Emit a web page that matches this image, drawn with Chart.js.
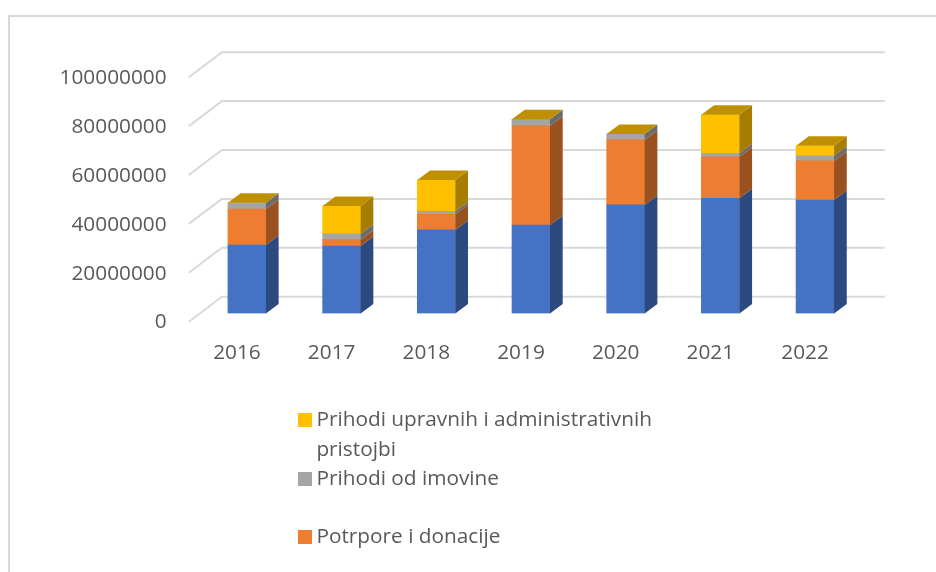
<!DOCTYPE html>
<html>
<head>
<meta charset="utf-8">
<style>html,body{margin:0;padding:0;background:#fff}canvas{display:block}</style>
<script src="https://cdn.jsdelivr.net/npm/chart.js@4"></script>
</head>
<body>
<canvas id="c" width="936" height="572"></canvas>
<script>
const categories = ['2016','2017','2018','2019','2020','2021','2022'];
const seriesBlue   = [28000000,27600000,34200000,36200000,44400000,47100000,46400000];
const seriesOrange = [14700000,2600000,6400000,40600000,26600000,17000000,16000000];
const seriesGray   = [2600000,2400000,1200000,2600000,2400000,1400000,2100000];
const seriesYellow = [0,11400000,12800000,0,0,15800000,4100000];
const labelOrange = 'Potrpore i donacije';
const labelGray = 'Prihodi od imovine';
const labelYellow = 'Prihodi upravnih i administrativnih';
const labelYellow2 = 'pristojbi';

const FONT = '"Open Sans"';
const FONT_SIZE = 20.8;
const DX = 12.7, DY = 9.5;           // bar depth
const WALL_DX = 22.3, WALL_DY = 16.8; // bar plane to back wall
const FRONT_DX = 10.8, FRONT_DY = 8.2; // bar plane to front edge
const shade = (hex, k) => {
  const n = parseInt(hex.slice(1), 16);
  return `rgb(${Math.round((n>>16)*k)},${Math.round(((n>>8)&255)*k)},${Math.round((n&255)*k)})`;
};
const swatch = color => {
  const cv = document.createElement('canvas');
  cv.width = 14; cv.height = 14;
  const g = cv.getContext('2d');
  g.fillStyle = color; g.fillRect(0, 0, 14, 14);
  return cv;
};

const depth = {
  id: 'depth',
  beforeDatasetsDraw(chart) {
    const {ctx, scales:{y}, chartArea:a} = chart;
    ctx.save();
    // chart frame
    ctx.strokeStyle = '#d9d9d9'; ctx.lineWidth = 2;
    ctx.beginPath(); ctx.moveTo(9, 580); ctx.lineTo(9, 16); ctx.lineTo(940, 16); ctx.stroke();
    // perspective gridlines
    ctx.lineJoin = 'round';
    y.ticks.forEach(t => {
      const p = y.getPixelForValue(t.value);
      ctx.beginPath();
      ctx.moveTo(a.left - FRONT_DX, p + FRONT_DY);
      ctx.lineTo(a.left + WALL_DX, p - WALL_DY);
      ctx.lineTo(a.right + WALL_DX, p - WALL_DY);
      ctx.stroke();
    });
    ctx.restore();
  },
  afterDatasetsDraw(chart) {
    const {ctx} = chart;
    ctx.save();
    const n = chart.data.datasets.length;
    chart.data.datasets.forEach((ds, i) => {
      chart.getDatasetMeta(i).data.forEach(bar => {
        const r = bar.x + bar.width / 2, l = bar.x - bar.width / 2;
        const t = bar.y, b = bar.base;
        if (b - t > 0.01) {
          ctx.fillStyle = shade(ds.backgroundColor, 0.65);
          ctx.beginPath();
          ctx.moveTo(r, t); ctx.lineTo(r + DX, t - DY); ctx.lineTo(r + DX, b - DY); ctx.lineTo(r, b);
          ctx.closePath(); ctx.fill();
        }
        if (i === n - 1) {
          ctx.fillStyle = shade(ds.backgroundColor, 0.75);
          ctx.beginPath();
          ctx.moveTo(l, t); ctx.lineTo(l + DX, t - DY); ctx.lineTo(r + DX, t - DY); ctx.lineTo(r, t);
          ctx.closePath(); ctx.fill();
        }
      });
    });
    ctx.restore();
  },
  afterLayout(chart) {
    const lg = chart.legend;
    lg.left = 303.8; lg.top = 410; lg.right = 700; lg.bottom = 640;
    lg.draw = function () { this._draw(); }; // swatches sit left of the box edge, so no clipping
  }
};

const bar = (label, data, color) => ({label, data, backgroundColor: color, borderWidth: 0, barThickness: 38});
const legendItem = (text, color, datasetIndex) => ({
  text, datasetIndex, pointStyle: swatch(color), fillStyle: color,
  strokeStyle: 'transparent', lineWidth: 0, fontColor: '#595959'
});

new Chart(document.getElementById('c'), {
  type: 'bar',
  data: {
    labels: categories,
    datasets: [
      bar('', seriesBlue, '#4472C4'),
      bar(labelOrange, seriesOrange, '#ED7D31'),
      bar(labelGray, seriesGray, '#A5A5A5'),
      bar(labelYellow, seriesYellow, '#FFC000')
    ]
  },
  plugins: [depth],
  options: {
    responsive: false,
    animation: false,
    layout: {padding: {left: 0, top: 69, right: 73.6, bottom: 0}, autoPadding: false},
    scales: {
      x: {
        stacked: true,
        grid: {display: false}, border: {display: false},
        ticks: {color: '#595959', font: {family: FONT, size: FONT_SIZE}, labelOffset: -10, padding: 19, maxRotation: 0, autoSkip: false},
        afterFit(s) { s.height = 258.5; }
      },
      y: {
        stacked: true, min: 0, max: 100000000,
        grid: {display: false}, border: {display: false},
        ticks: {stepSize: 20000000, color: '#595959', font: {family: FONT, size: FONT_SIZE}, labelOffset: 9, padding: 25, callback: v => String(v)},
        afterFit(s) { s.width = 199.6; }
      }
    },
    plugins: {
      title: {display: false},
      tooltip: {enabled: false},
      legend: {
        position: 'chartArea', align: 'start',
        labels: {
          color: '#595959', usePointStyle: true, pointStyleWidth: 2.2, padding: 0,
          font: {family: FONT, size: FONT_SIZE, lineHeight: '29.2px'},
          generateLabels: () => [
            legendItem([labelYellow, labelYellow2], '#FFC000', 3),
            legendItem([labelGray, ''], '#A5A5A5', 2),
            legendItem(labelOrange, '#ED7D31', 1)
          ]
        }
      }
    }
  }
});
</script>
</body>
</html>
